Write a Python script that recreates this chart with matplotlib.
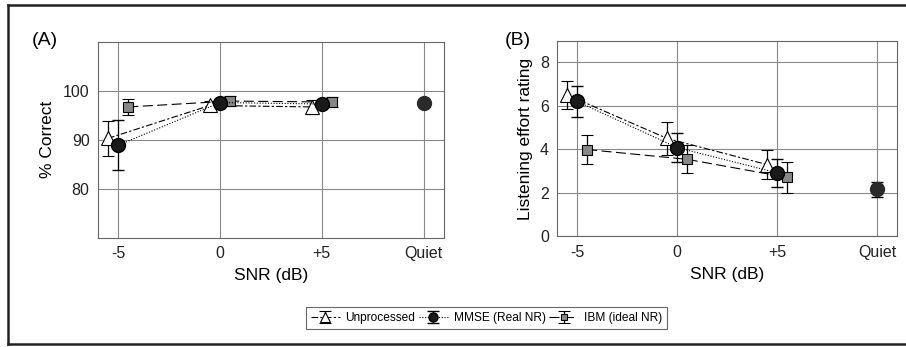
import numpy as np
import matplotlib.pyplot as plt
from matplotlib.lines import Line2D

# x positions: -5, 0, +5 dB and Quiet (plotted at 10)
snr = np.array([-5, 0, 5])
quiet_x = 10
xtick_labels = ['-5', '0', '+5', 'Quiet']

# (A) % correct
unp_pc = [90.3, 97.0, 96.7]
unp_pc_err = [3.6, 1.0, 1.4]
mmse_pc = [88.9, 97.6, 97.3]
mmse_pc_err = [5.1, 0.6, 0.6]
ibm_pc = [96.7, 97.9, 97.7]
ibm_pc_err = [1.6, 1.0, 1.0]
quiet_pc = 97.6
quiet_pc_err = 0.4

# (B) listening effort
unp_le = [6.5, 4.5, 3.3]
unp_le_err = [0.65, 0.75, 0.65]
mmse_le = [6.2, 4.08, 2.92]
mmse_le_err = [0.7, 0.68, 0.63]
ibm_le = [3.99, 3.54, 2.71]
ibm_le_err = [0.67, 0.65, 0.73]
quiet_le = 2.16
quiet_le_err = 0.33

plt.rcParams['font.family'] = 'Liberation Sans'

fig = plt.figure(figsize=(9.06, 3.47), dpi=100)
axA = fig.add_axes([0.108, 0.314, 0.382, 0.566])
axB = fig.add_axes([0.615, 0.319, 0.375, 0.564])


def draw(ax, unp, unp_e, mm, mm_e, ib, ib_e, qv, qe):
    h1 = ax.errorbar(snr - 0.5, unp, yerr=unp_e, color='black', lw=0.8,
                     ls=(0, (6, 2, 2, 2)), marker='^', ms=10, mfc='white',
                     mec='black', mew=0.8, capsize=4, elinewidth=0.9, zorder=3)
    h2 = ax.errorbar(snr, mm, yerr=mm_e, color='black', lw=0.8,
                     ls=(0, (1, 1.5)), marker='o', ms=10, mfc='#1a1a1a',
                     mec='black', capsize=4, elinewidth=0.9, zorder=4)
    h3 = ax.errorbar(snr + 0.5, ib, yerr=ib_e, color='black', lw=0.8,
                     ls=(0, (9, 4)), marker='s', ms=7, mfc='#888888',
                     mec='black', mew=0.8, capsize=4, elinewidth=0.9, zorder=3)
    ax.errorbar([quiet_x], [qv], yerr=[qe], color='black', marker='o', ms=10,
                mfc='#2a2a2a', mec='#2a2a2a', capsize=4, elinewidth=0.9,
                ls='none', zorder=4)
    ax.set_xlim(-6, 11)
    ax.set_xticks([-5, 0, 5, quiet_x])
    ax.set_xticklabels(xtick_labels)
    ax.grid(True, color='#888888', lw=0.8)
    ax.set_axisbelow(True)
    ax.tick_params(length=0, labelsize=11.5, colors='#222222', pad=6)
    for s in ax.spines.values():
        s.set_color('#666666')
    ax.set_xlabel('SNR (dB)', fontsize=12.5, labelpad=5)
    return h1, h2, h3


handles = draw(axA, unp_pc, unp_pc_err, mmse_pc, mmse_pc_err,
               ibm_pc, ibm_pc_err, quiet_pc, quiet_pc_err)
axA.set_ylim(70, 110)
axA.set_yticks([80, 90, 100])
axA.set_ylabel('% Correct', fontsize=12.5, labelpad=6)
fig.text(0.035, 0.870, '(A)', fontsize=14)

draw(axB, unp_le, unp_le_err, mmse_le, mmse_le_err,
     ibm_le, ibm_le_err, quiet_le, quiet_le_err)
axB.set_ylim(0, 9)
axB.set_yticks([0, 2, 4, 6, 8])
axB.set_ylabel('Listening effort rating', fontsize=12.5, labelpad=5)
fig.text(0.557, 0.870, '(B)', fontsize=14)

leg = fig.legend(handles, ['Unprocessed', 'MMSE (Real NR)', 'IBM (ideal NR)'],
                 loc='center', bbox_to_anchor=(0.537, 0.083), ncol=3,
                 fontsize=8.6, frameon=True, fancybox=False, edgecolor='#444444',
                 handlelength=2.4, handletextpad=0.5, columnspacing=0.3,
                 borderpad=0.4, markerscale=0.65)
leg.get_frame().set_linewidth(0.8)

# outer frame: left, top, bottom
W, H = 906, 347
for xs, ys in [([8 / W, 8 / W], [3 / H, 1 - 5 / H]),
               ([8 / W, 1], [1 - 5 / H, 1 - 5 / H]),
               ([8 / W, 1], [3 / H, 3 / H])]:
    fig.add_artist(Line2D(xs, ys, transform=fig.transFigure,
                          color='#222222', lw=1.8))

fig.savefig('out.png', dpi=100)
